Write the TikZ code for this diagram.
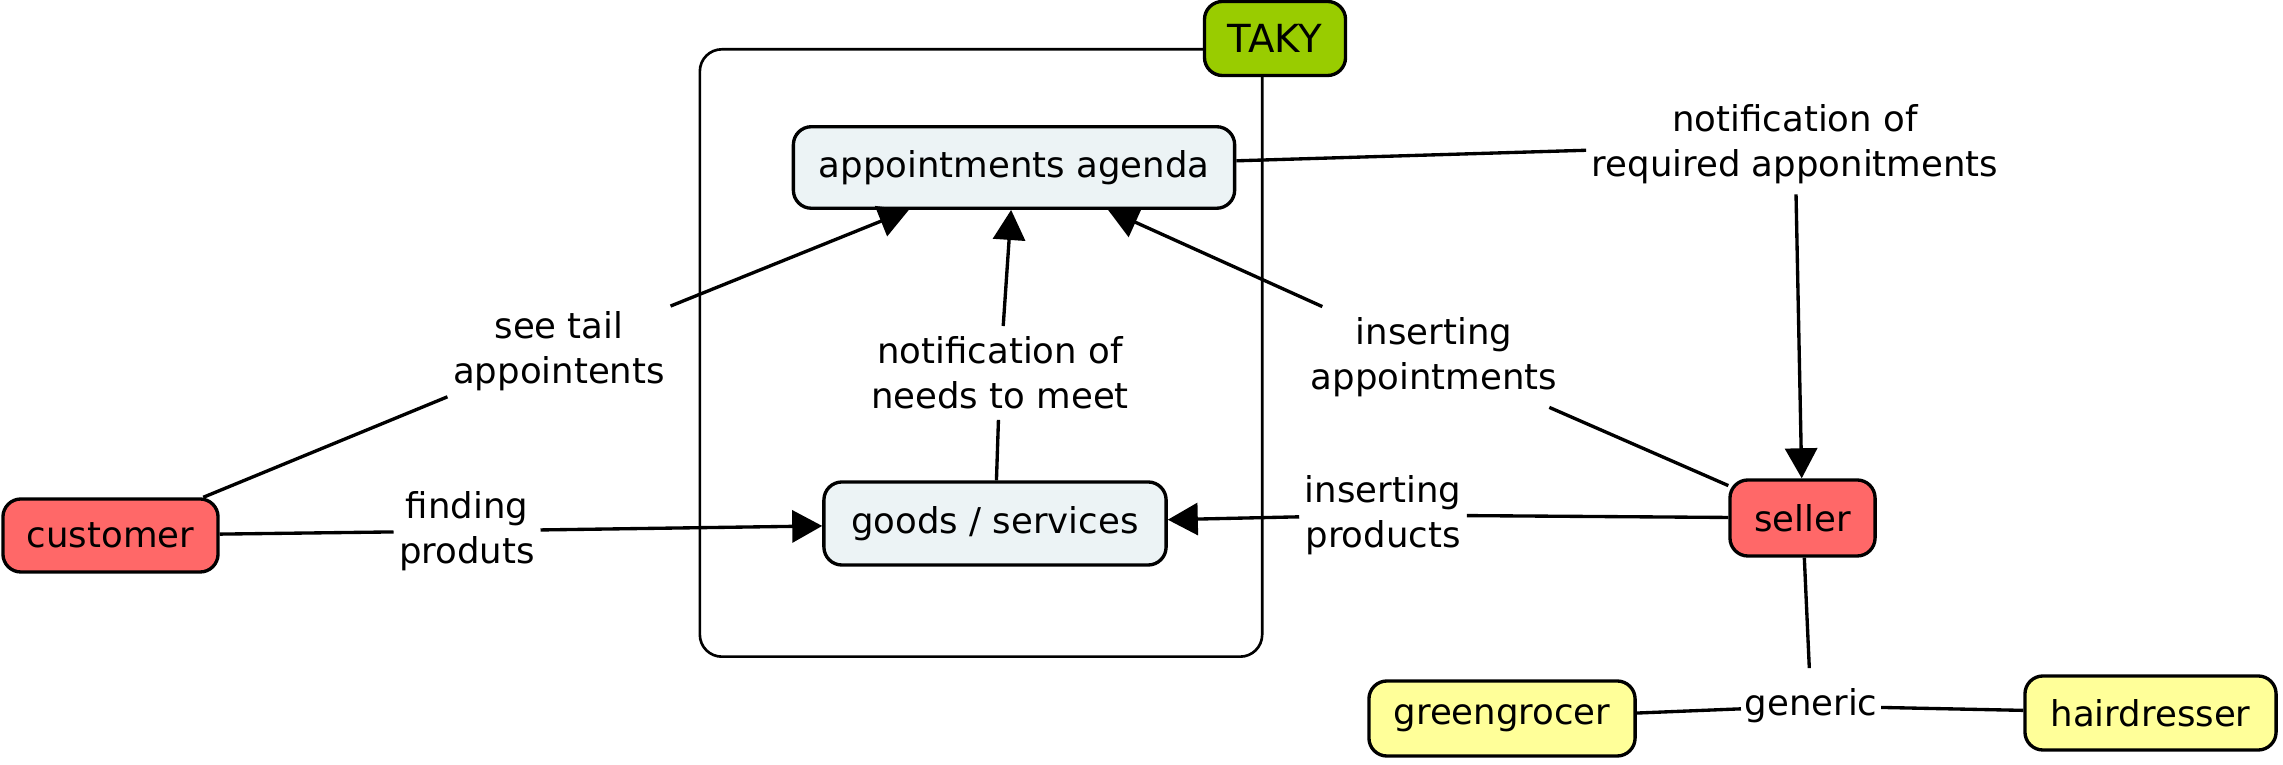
\documentclass[tikz,border=0pt]{standalone}
\usepackage{fontspec}
\setmainfont{DejaVu Sans}
\usetikzlibrary{arrows.meta}
\definecolor{actor}{RGB}{255,104,104}
\definecolor{sys}{RGB}{236,243,245}
\definecolor{kind}{RGB}{255,255,153}
\definecolor{taky}{RGB}{153,204,0}
\begin{document}
\begin{tikzpicture}[x=0.01cm,y=-0.01cm,
  box/.style={draw, line width=0.95pt, rounded corners=0.18cm, font=\fontsize{10.1}{12.8}\selectfont, inner sep=0pt},
  lbl/.style={font=\fontsize{10.1}{12.8}\selectfont, align=center, inner xsep=0.05cm, inner ysep=0.1cm},
  conn/.style={line width=0.95pt},
  arr/.style={conn, -{Triangle[length=0.3cm,width=0.32cm]}}]
\useasboundingbox (0,0) rectangle (2283,765);
% group frame
\node[draw, line width=0.75pt, rounded corners=0.22cm, minimum width=5.62cm, minimum height=6.07cm, inner sep=0pt] (grp) at (981,353) {};
\node[box, fill=taky, minimum width=1.41cm, minimum height=0.74cm, font=\fontsize{11}{13}\selectfont] (taky) at (1275,38.5) {TAKY};
% concepts
\node[box, fill=sys, minimum width=4.41cm, minimum height=0.815cm] (agenda) at (1014,167.5) {appointments agenda};
\node[box, fill=sys, minimum width=3.42cm, minimum height=0.83cm] (goods) at (995,523.5) {goods / services};
\node[box, fill=actor, minimum width=2.15cm, minimum height=0.73cm] (customer) at (110.5,535.5) {customer};
\node[box, fill=actor, minimum width=1.45cm, minimum height=0.76cm] (seller) at (1802.5,518) {seller};
\node[box, fill=kind, minimum width=2.66cm, minimum height=0.75cm] (green) at (1502,718.5) {greengrocer};
\node[box, fill=kind, minimum width=2.51cm, minimum height=0.74cm] (hair) at (2150.5,713) {hairdresser};
% labels
\node[lbl] (lsee) at (559,351) {see tail\\appointents};
\node[lbl] (lfind) at (467,531) {finding\\produts};
\node[lbl] (lneeds) at (1000,373) {notification of\\needs to meet};
\node[lbl] (lins) at (1434,357) {inserting\\appointments};
\node[lbl] (lreq) at (1795,144) {notification of\\required apponitments};
\node[lbl] (lprod) at (1383,515) {inserting\\products};
\node[lbl, inner xsep=0.03cm, inner ysep=0.2cm] (lgen) at (1811,706) {generic};
% connectors
\draw[conn] (customer) -- (lsee);
\draw[arr] (lsee) -- (agenda);
\draw[conn] (customer) -- (lfind);
\draw[arr] (lfind) -- (goods);
\draw[conn] (goods) -- (lneeds);
\draw[arr] (lneeds) -- (agenda);
\draw[conn] (seller) -- (lins);
\draw[arr] (lins) -- (agenda);
\draw[conn] (agenda) -- (lreq);
\draw[arr] (lreq) -- (seller);
\draw[conn] (seller) -- (lprod);
\draw[arr] (lprod) -- (goods);
\draw[conn] (seller) -- (lgen);
\draw[conn] (lgen) -- (green);
\draw[conn] (lgen) -- (hair);
\end{tikzpicture}
\end{document}
